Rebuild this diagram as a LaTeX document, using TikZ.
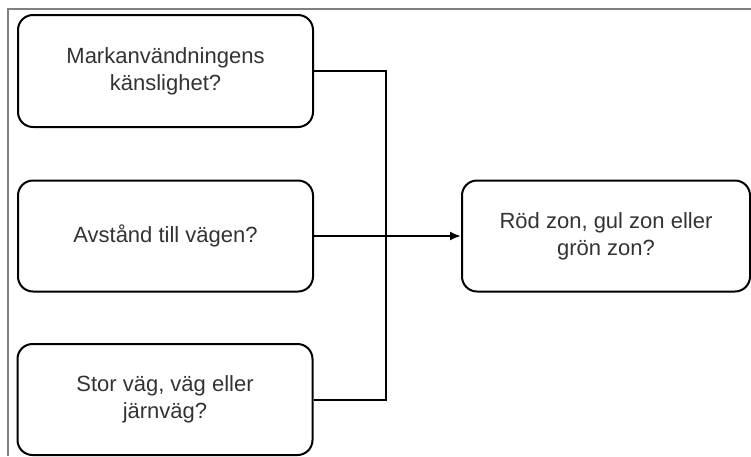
\documentclass[tikz,border=0pt]{standalone}
\usepackage{fontspec}
\setmainfont{Liberation Sans}
\usetikzlibrary{arrows.meta}
\definecolor{txt}{HTML}{333333}
\definecolor{frame}{HTML}{808080}
\tikzset{
  qbox/.style={draw=black, line width=2pt, rounded corners=15pt, align=center,
    text=txt, font=\fontsize{22}{27}\selectfont, inner sep=0pt},
  conn/.style={draw=black, line width=2pt},
}
\begin{document}
\begin{tikzpicture}[x=1pt,y=-1pt]
\useasboundingbox (0,0) rectangle (751,456);
\draw[frame, line width=1.5pt] (8,456) -- (8,9) -- (751,9);
\node[qbox, minimum width=295pt, minimum height=112pt] (b1) at (165.5,71) {Markanvändningens\\känslighet?};
\node[qbox, minimum width=295pt, minimum height=111pt] (b2) at (165.5,236) {Avstånd till vägen?};
\node[qbox, minimum width=295pt, minimum height=111pt] (b3) at (165,399.5) {Stor väg, väg eller\\järnväg?};
\node[qbox, minimum width=288pt, minimum height=111pt] (r) at (606,236) {Röd zon, gul zon eller\\grön zon?};
\coordinate (j) at (386,71);
\draw[conn] (b1.east) -- (j) |- (b3.east);
\draw[conn, -{Latex[length=11pt,width=9pt]}] (b2.east) -- (r.west);
\end{tikzpicture}
\end{document}
